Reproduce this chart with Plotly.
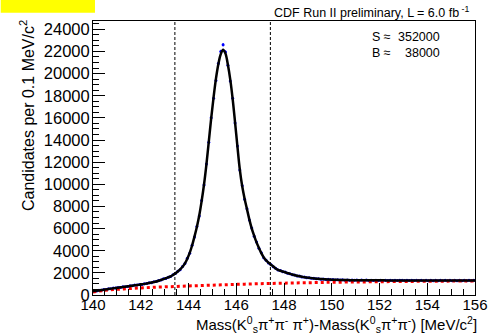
import numpy as np
import plotly.graph_objects as go

# ---------------- data ----------------
BIN_LO, BIN_HI, BIN_W = 140.0, 156.0, 0.1

# data counts per 0.1 MeV bin (bin centres 140.05 ... 155.95)
DATA = [
    372, 370, 430, 436, 490, 497, 560, 566, 628, 622,
    680, 688, 741, 746, 770, 832, 838, 897, 893, 950,
    955, 1025, 1031, 1098, 1108, 1192, 1212, 1305, 1350, 1462,
    1500, 1612, 1668, 1832, 1940, 2140, 2290, 2578, 2840, 3310,
    3770, 4500, 5250, 6190, 7140, 8530, 9930, 11840, 13790, 16020,
    17780, 19380, 20900, 22000, 22610,
    21950, 20750, 19330, 17780, 15540, 13470, 11280, 9870, 8650, 7800,
    6770, 6045, 5310, 4790, 4215, 3810, 3375, 3145, 2900, 2765,
    2560, 2425, 2262, 2210, 2102, 2072, 1962, 1930, 1834, 1808,
    1720, 1706, 1636, 1628, 1566, 1567, 1510, 1518, 1462, 1476,
    1430, 1445, 1400, 1420, 1378, 1399, 1362, 1385, 1348, 1371,
    1338, 1362, 1330, 1356, 1322,
    1350, 1318, 1347, 1315, 1346, 1312, 1341, 1310, 1342, 1309,
    1338, 1305, 1336, 1308, 1337, 1303, 1334, 1302, 1333, 1343,
    1300, 1330, 1301, 1329, 1299, 1332, 1300, 1328, 1298, 1327,
    1296, 1330, 1297, 1326, 1298, 1327, 1295, 1325, 1296, 1328,
    1297, 1326, 1295, 1324, 1297, 1325, 1294, 1327, 1296, 1322,
]

# total fit (signal + background) at bin centres
FIT = [
    355, 385, 415, 445, 475, 508, 542, 575, 605, 635,
    665, 695, 725, 755, 785, 815, 845, 875, 905, 935,
    968, 1002, 1040, 1080, 1122, 1170, 1225, 1290, 1365, 1440,
    1515, 1590, 1680, 1810, 1955, 2115, 2310, 2550, 2860, 3280,
    3800, 4470, 5280, 6150, 7180, 8480, 9980, 11780, 13850, 15950,
    17850, 19550, 20850, 21750, 22150,
    21800, 20800, 19450, 17700, 15600, 13400, 11330, 9820, 8700, 7750,
    6810, 6000, 5350, 4750, 4250, 3780, 3400, 3120, 2920, 2740,
    2580, 2400, 2280, 2190, 2120, 2050, 1980, 1910, 1850, 1790,
    1735, 1690, 1650, 1610, 1580, 1550, 1525, 1500, 1478, 1460,
    1443, 1428, 1414, 1402, 1392, 1383, 1375, 1368, 1362, 1356,
    1351, 1347, 1343, 1340, 1337,
    1335, 1333, 1332, 1330, 1329, 1328, 1327, 1326, 1325, 1324,
    1323, 1322, 1321, 1321, 1320, 1319, 1319, 1318, 1318, 1317,
    1317, 1316, 1316, 1315, 1315, 1315, 1314, 1314, 1314, 1313,
    1313, 1313, 1313, 1312, 1312, 1312, 1312, 1312, 1311, 1311,
    1311, 1311, 1311, 1311, 1310, 1310, 1310, 1310, 1310, 1310,
]
FIT_EDGE_LO, FIT_EDGE_HI = 340, 1310   # fit value at 140.0 and 156.0

# background component of the fit
BKG_X = [140.0, 140.5, 141.0, 141.5, 142.0, 142.5, 143.0, 143.5, 144.0, 144.5,
         145.0, 145.5, 146.0, 146.5, 147.0, 147.5, 148.0, 148.5, 149.0, 149.5,
         150.0, 151.0, 152.0, 153.0, 154.0, 155.0, 156.0]
BKG_Y = [280, 420, 510, 580, 640, 690, 735, 775, 815, 855,
         890, 925, 960, 990, 1020, 1045, 1070, 1090, 1110, 1130,
         1148, 1175, 1200, 1222, 1240, 1256, 1270]

WINDOW = [143.43, 147.43]          # signal window (dashed lines)
X_TICKS = [140, 142, 144, 146, 148, 150, 152, 154, 156]
Y_TICKS = list(range(0, 24001, 2000))
S_TEXT, B_TEXT = "352000", "38000"

assert len(DATA) == 160 and len(FIT) == 160

centres = np.round(np.arange(BIN_LO + BIN_W / 2, BIN_HI, BIN_W), 3)
fit_x = np.concatenate([[BIN_LO], centres, [BIN_HI]])
fit_y = [FIT_EDGE_LO] + FIT + [FIT_EDGE_HI]
errs = np.sqrt(np.array(DATA, dtype=float))

FONT = "Liberation Sans, Arial, Helvetica, sans-serif"

fig = go.Figure()

# data points
fig.add_trace(go.Scatter(
    x=centres, y=DATA, mode="markers",
    marker=dict(color="#0000ff", size=3),
    error_y=dict(type="data", array=errs, visible=True, color="#0000ff",
                 thickness=1, width=0),
    hoverinfo="skip", showlegend=False))

# background
fig.add_trace(go.Scatter(
    x=BKG_X, y=BKG_Y, mode="lines", line_shape="spline",
    line=dict(color="#ff0000", width=3, dash="dot"),
    hoverinfo="skip", showlegend=False))

# total fit
fig.add_trace(go.Scatter(
    x=fit_x, y=fit_y, mode="lines", line_shape="spline",
    line=dict(color="#000000", width=2.5),
    hoverinfo="skip", showlegend=False))

for w in WINDOW:
    fig.add_shape(type="line", xref="x", yref="paper", x0=w, x1=w, y0=0, y1=1,
                  line=dict(color="black", width=1, dash="3px,2px"))

# yellow box at top-left
fig.add_shape(type="rect", xref="paper", yref="paper",
              x0=-93 / 385, x1=2 / 385, y0=1 + (21 - 12.7) / 274, y1=1 + 21 / 274,
              fillcolor="#ffff00", line=dict(width=0), layer="above")

axis_common = dict(showline=True, linecolor="black", linewidth=1, mirror=True,
                   ticks="inside", tickcolor="black", showgrid=False,
                   zeroline=False)

fig.update_xaxes(range=[BIN_LO, BIN_HI], tickvals=X_TICKS,
                 ticktext=[str(v) for v in X_TICKS], ticklen=12,
                 ticklabelstandoff=-4,
                 tickfont=dict(family=FONT, size=15, color="black"),
                 minor=dict(dtick=0.5, ticklen=6, ticks="inside", tickcolor="black",
                            showgrid=False),
                 **axis_common)
fig.update_yaxes(range=[0, 24750], tickvals=Y_TICKS,
                 ticktext=[str(v) for v in Y_TICKS], ticklen=12,
                 ticklabelstandoff=-1,
                 tickfont=dict(family=FONT, size=16.5, color="black"),
                 minor=dict(dtick=500, ticklen=6, ticks="inside", tickcolor="black",
                            showgrid=False),
                 **axis_common)

SB_SPLIT = 1 - (44.5 - 21) / 274
ann = [
    dict(text="Candidates per 0.1 MeV/c<sup>2</sup>", textangle=-90,
         x=-66 / 385, xanchor="center", y=1 + 3 / 274, yanchor="top",
         font=dict(size=16)),
    dict(text="Mass(K<sup>0</sup><sub>s</sub>π<sup>+</sup>π<sup>-</sup> π<sup>+</sup>)"
              "-Mass(K<sup>0</sup><sub>s</sub>π<sup>+</sup>π<sup>-</sup>) [MeV/c<sup>2</sup>]",
         x=1 + 4 / 385, xanchor="right", y=-(336.5 - 295) / 274, yanchor="bottom",
         font=dict(size=15)),
    dict(text="CDF Run II preliminary, L = 6.0 fb<sup> -1</sup>",
         x=(474 - 93) / 385, xanchor="right", y=1 + 9 / 274, yanchor="middle",
         font=dict(size=12.5)),
    dict(text="S ≈", x=(373 - 93) / 385, xanchor="left",
         y=SB_SPLIT, yanchor="bottom", font=dict(size=12.5)),
    dict(text=S_TEXT, x=(444 - 93) / 385, xanchor="right",
         y=SB_SPLIT, yanchor="bottom", font=dict(size=12.5)),
    dict(text="B ≈", x=(373 - 93) / 385, xanchor="left",
         y=SB_SPLIT, yanchor="top", font=dict(size=12.5)),
    dict(text=B_TEXT, x=(444 - 93) / 385, xanchor="right",
         y=SB_SPLIT, yanchor="top", font=dict(size=12.5)),
]
for a in ann:
    a.update(xref="paper", yref="paper", showarrow=False)
    if a["text"] in ("S ≈", "B ≈", S_TEXT, B_TEXT):
        a["borderpad"] = 0
    a["font"].update(family=FONT, color="black")
    fig.add_annotation(**a)

fig.update_layout(width=500, height=335,
                  margin=dict(l=93, r=22, t=21, b=40, pad=0),
                  paper_bgcolor="white", plot_bgcolor="white",
                  font=dict(family=FONT, color="black"),
                  showlegend=False)

fig.write_html("out.html")
